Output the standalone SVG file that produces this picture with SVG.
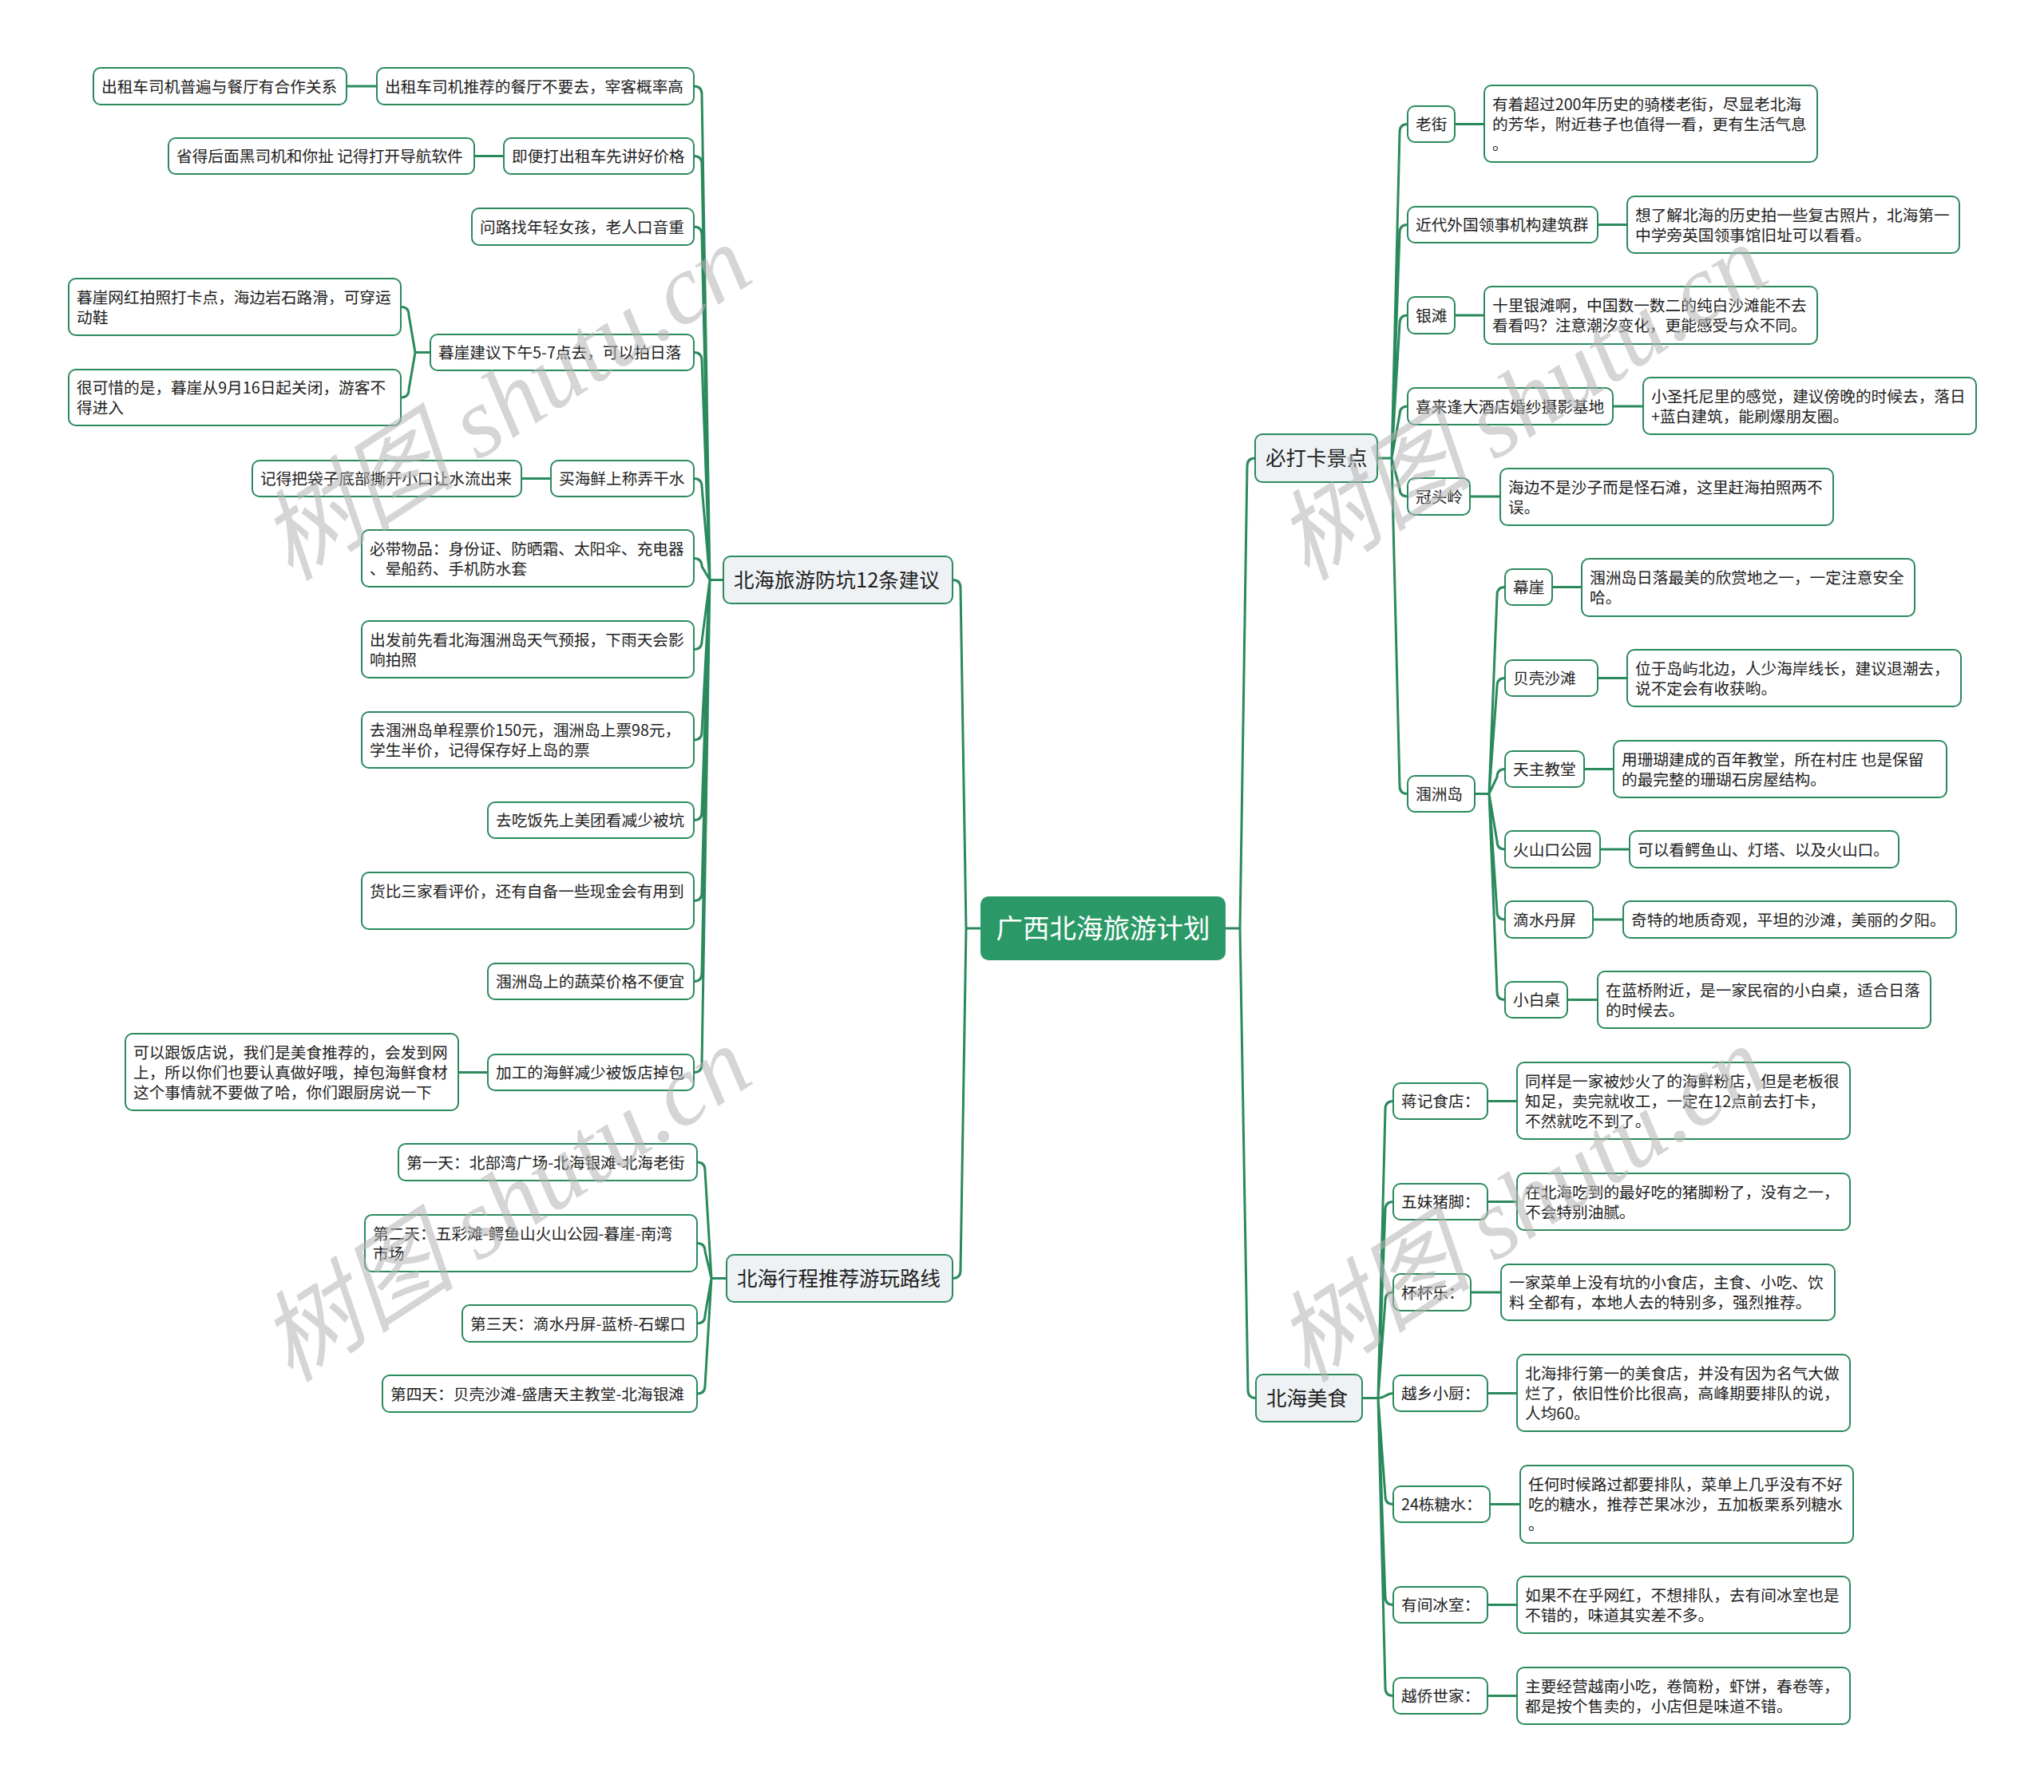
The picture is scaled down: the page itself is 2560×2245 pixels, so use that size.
<svg xmlns="http://www.w3.org/2000/svg" width="2560" height="2245" viewBox="0 0 2560 2245">
<style>
.box{fill:#ffffff;stroke:#2a8a5c;stroke-width:2}
.br{fill:#eef2f5;stroke:#2a8a5c;stroke-width:2}
.root{fill:#2b9967}
.t{font-family:"Noto Sans CJK SC","Noto Sans",sans-serif;font-size:19.7px;fill:#222}
.tb{font-family:"Noto Sans CJK SC","Noto Sans",sans-serif;font-size:25.5px;fill:#222}
.tr{font-family:"Noto Sans CJK SC","Noto Sans",sans-serif;font-size:33.5px;fill:#ffffff}
.c{fill:none;stroke:#2a8a5c;stroke-width:3}
.wm{font-family:"Liberation Serif","Noto Sans CJK SC",serif;font-style:italic;font-size:124px;fill:#b4b4b4;opacity:0.55}
</style>
<rect width="2560" height="2245" fill="#ffffff"/>
<g id="connectors">
<path class="c" d="M1228,1163 H1210 M1210,1163 L1203,736.5 Q1203,726.5 1193,726.5 M1210,1163 L1203,1591.5 Q1203,1601.5 1193,1601.5"/>
<path class="c" d="M1535,1163 H1553 M1553,1163 L1562,584 Q1562,574 1572,574 M1553,1163 L1563,1741.5 Q1563,1751.5 1573,1751.5"/>
<path class="c" d="M906,726.5 H889 M889,726.5 L879,118 Q879,108 869,108 M889,726.5 L879,205.5 Q879,195.5 869,195.5 M889,726.5 L879,294 Q879,284 869,284 M889,726.5 L879,451.5 Q879,441.5 869,441.5 M889,726.5 L879,609.5 Q879,599.5 869,599.5 M889,726.5 L879,709.5 Q879,699.5 869,699.5 M889,726.5 L879,803.5 Q879,813.5 869,813.5 M889,726.5 L879,917 Q879,927 869,927 M889,726.5 L879,1017.5 Q879,1027.5 869,1027.5 M889,726.5 L879,1118.5 Q879,1128.5 869,1128.5 M889,726.5 L879,1219.5 Q879,1229.5 869,1229.5 M889,726.5 L879,1333.5 Q879,1343.5 869,1343.5"/>
<path class="c" d="M472,108 H434 M631,195.5 H594 M690,599.5 H653 M611,1343.5 H574"/>
<path class="c" d="M539,441.5 H520 M520,441.5 L512,394.5 Q512,384.5 502,384.5 M520,441.5 L512,488 Q512,498 502,498"/>
<path class="c" d="M910,1601.5 H891 M891,1601.5 L883,1466 Q883,1456 873,1456 M891,1601.5 L883,1567.5 Q883,1557.5 873,1557.5 M891,1601.5 L883,1648 Q883,1658 873,1658 M891,1601.5 L883,1736 Q883,1746 873,1746"/>
<path class="c" d="M1725,574 H1743 M1743,574 L1753,165.5 Q1753,155.5 1763,155.5 M1743,574 L1753,291.5 Q1753,281.5 1763,281.5 M1743,574 L1753,405 Q1753,395 1763,395 M1743,574 L1753,519 Q1753,509 1763,509 M1743,574 L1753,612 Q1753,622 1763,622 M1743,574 L1753,984.5 Q1753,994.5 1763,994.5"/>
<path class="c" d="M1822,155.5 H1859 M2001,281.5 H2038 M1822,395 H1859 M2020,509 H2058 M1841,622 H1879"/>
<path class="c" d="M1847,994.5 H1865 M1865,994.5 L1875,745.5 Q1875,735.5 1885,735.5 M1865,994.5 L1875,859.5 Q1875,849.5 1885,849.5 M1865,994.5 L1875,973.5 Q1875,963.5 1885,963.5 M1865,994.5 L1875,1054 Q1875,1064 1885,1064 M1865,994.5 L1875,1142 Q1875,1152 1885,1152 M1865,994.5 L1875,1242.5 Q1875,1252.5 1885,1252.5"/>
<path class="c" d="M1944,735.5 H1981 M2001,849.5 H2038 M1984,963.5 H2021 M2004,1064 H2041 M1995,1152 H2033 M1963,1252.5 H2001"/>
<path class="c" d="M1706,1751.5 H1726 M1726,1751.5 L1735,1389.5 Q1735,1379.5 1745,1379.5 M1726,1751.5 L1735,1515.5 Q1735,1505.5 1745,1505.5 M1726,1751.5 L1735,1629 Q1735,1619 1745,1619 M1726,1751.5 C1736,1751.5 1735,1745.5 1745,1745.5 M1726,1751.5 L1735,1874.5 Q1735,1884.5 1745,1884.5 M1726,1751.5 L1735,2000.5 Q1735,2010.5 1745,2010.5 M1726,1751.5 L1735,2114.5 Q1735,2124.5 1745,2124.5"/>
<path class="c" d="M1863,1379.5 H1900 M1863,1505.5 H1900 M1842,1619 H1880 M1863,1745.5 H1900 M1866,1884.5 H1904 M1863,2010.5 H1900 M1863,2124.5 H1900"/>
</g>
<g id="root"><rect class="root" x="1228" y="1123" width="307" height="80" rx="10"/><text class="tr" x="1381.5" y="1175" text-anchor="middle">广西北海旅游计划</text></g>
<g id="b-fangkeng"><rect class="br" x="906" y="697" width="287" height="59" rx="9"/><text class="tb" x="919" y="735.5">北海旅游防坑12条建议</text></g>
<g id="b-xingcheng"><rect class="br" x="910" y="1572" width="283" height="59" rx="9"/><text class="tb" x="923" y="1610.5">北海行程推荐游玩路线</text></g>
<g id="b-daka"><rect class="br" x="1572" y="544" width="153" height="60" rx="9"/><text class="tb" x="1585" y="583">必打卡景点</text></g>
<g id="b-meishi"><rect class="br" x="1573" y="1722" width="133" height="59" rx="9"/><text class="tb" x="1586" y="1760.5">北海美食</text></g>
<g id="n-l1"><rect class="box" x="472" y="85" width="397" height="46" rx="9"/><text class="t" x="482" y="115.5">出租车司机推荐的餐厅不要去，宰客概率高</text></g>
<g id="n-l1a"><rect class="box" x="117" y="85" width="317" height="46" rx="9"/><text class="t" x="127" y="115.5">出租车司机普遍与餐厅有合作关系</text></g>
<g id="n-l2"><rect class="box" x="631" y="173" width="238" height="45" rx="9"/><text class="t" x="641" y="203">即便打出租车先讲好价格</text></g>
<g id="n-l2a"><rect class="box" x="211" y="173" width="383" height="45" rx="9"/><text class="t" x="221" y="203">省得后面黑司机和你扯 记得打开导航软件</text></g>
<g id="n-l3"><rect class="box" x="591" y="261" width="278" height="46" rx="9"/><text class="t" x="601" y="291.5">问路找年轻女孩，老人口音重</text></g>
<g id="n-l4"><rect class="box" x="539" y="419" width="330" height="45" rx="9"/><text class="t" x="549" y="449">暮崖建议下午5-7点去，可以拍日落</text></g>
<g id="n-l4a"><rect class="box" x="86" y="349" width="416" height="71" rx="9"/><text class="t" x="96" y="379.5">暮崖网红拍照打卡点，海边岩石路滑，可穿运</text><text class="t" x="96" y="404.5">动鞋</text></g>
<g id="n-l4b"><rect class="box" x="86" y="463" width="416" height="70" rx="9"/><text class="t" x="96" y="493">很可惜的是，暮崖从9月16日起关闭，游客不</text><text class="t" x="96" y="518">得进入</text></g>
<g id="n-l5"><rect class="box" x="690" y="577" width="179" height="45" rx="9"/><text class="t" x="700" y="607">买海鲜上称弄干水</text></g>
<g id="n-l5a"><rect class="box" x="316" y="577" width="337" height="45" rx="9"/><text class="t" x="326" y="607">记得把袋子底部撕开小口让水流出来</text></g>
<g id="n-l6"><rect class="box" x="453" y="664" width="416" height="71" rx="9"/><text class="t" x="463" y="694.5">必带物品：身份证、防晒霜、太阳伞、充电器</text><text class="t" x="463" y="719.5">、晕船药、手机防水套</text></g>
<g id="n-l7"><rect class="box" x="453" y="778" width="416" height="71" rx="9"/><text class="t" x="463" y="808.5">出发前先看北海涠洲岛天气预报，下雨天会影</text><text class="t" x="463" y="833.5">响拍照</text></g>
<g id="n-l8"><rect class="box" x="453" y="892" width="416" height="70" rx="9"/><text class="t" x="463" y="922">去涠洲岛单程票价150元，涠洲岛上票98元，</text><text class="t" x="463" y="947">学生半价，记得保存好上岛的票</text></g>
<g id="n-l9"><rect class="box" x="611" y="1005" width="258" height="45" rx="9"/><text class="t" x="621" y="1035">去吃饭先上美团看减少被坑</text></g>
<g id="n-l10"><rect class="box" x="453" y="1093" width="416" height="71" rx="9"/><text class="t" x="463" y="1123.5">货比三家看评价，还有自备一些现金会有用到</text></g>
<g id="n-l11"><rect class="box" x="611" y="1207" width="258" height="45" rx="9"/><text class="t" x="621" y="1237">涠洲岛上的蔬菜价格不便宜</text></g>
<g id="n-l12"><rect class="box" x="611" y="1321" width="258" height="45" rx="9"/><text class="t" x="621" y="1351">加工的海鲜减少被饭店掉包</text></g>
<g id="n-l12a"><rect class="box" x="157" y="1295" width="417" height="96" rx="9"/><text class="t" x="167" y="1325.5">可以跟饭店说，我们是美食推荐的，会发到网</text><text class="t" x="167" y="1350.5">上，所以你们也要认真做好哦，掉包海鲜食材</text><text class="t" x="167" y="1375.5">这个事情就不要做了哈，你们跟厨房说一下</text></g>
<g id="n-d1"><rect class="box" x="499" y="1433" width="374" height="46" rx="9"/><text class="t" x="509" y="1463.5">第一天：北部湾广场-北海银滩-北海老街</text></g>
<g id="n-d2"><rect class="box" x="457" y="1522" width="416" height="71" rx="9"/><text class="t" x="467" y="1552.5">第二天：五彩滩-鳄鱼山火山公园-暮崖-南湾</text><text class="t" x="467" y="1577.5">市场</text></g>
<g id="n-d3"><rect class="box" x="579" y="1635" width="294" height="46" rx="9"/><text class="t" x="589" y="1665.5">第三天：滴水丹屏-蓝桥-石螺口</text></g>
<g id="n-d4"><rect class="box" x="479" y="1723" width="394" height="46" rx="9"/><text class="t" x="489" y="1753.5">第四天：贝壳沙滩-盛唐天主教堂-北海银滩</text></g>
<g id="n-r1"><rect class="box" x="1763" y="133" width="59" height="45" rx="9"/><text class="t" x="1773" y="163">老街</text></g>
<g id="n-r1a"><rect class="box" x="1859" y="107" width="417" height="96" rx="9"/><text class="t" x="1869" y="137.5">有着超过200年历史的骑楼老街，尽显老北海</text><text class="t" x="1869" y="162.5">的芳华，附近巷子也值得一看，更有生活气息</text><text class="t" x="1869" y="187.5">。</text></g>
<g id="n-r2"><rect class="box" x="1763" y="259" width="238" height="45" rx="9"/><text class="t" x="1773" y="289">近代外国领事机构建筑群</text></g>
<g id="n-r2a"><rect class="box" x="2038" y="246" width="416" height="71" rx="9"/><text class="t" x="2048" y="276.5">想了解北海的历史拍一些复古照片，北海第一</text><text class="t" x="2048" y="301.5">中学旁英国领事馆旧址可以看看。</text></g>
<g id="n-r3"><rect class="box" x="1763" y="372" width="59" height="46" rx="9"/><text class="t" x="1773" y="402.5">银滩</text></g>
<g id="n-r3a"><rect class="box" x="1859" y="359" width="417" height="72" rx="9"/><text class="t" x="1869" y="390">十里银滩啊，中国数一数二的纯白沙滩能不去</text><text class="t" x="1869" y="415">看看吗？注意潮汐变化，更能感受与众不同。</text></g>
<g id="n-r4"><rect class="box" x="1763" y="486" width="257" height="46" rx="9"/><text class="t" x="1773" y="516.5">喜来逢大酒店婚纱摄影基地</text></g>
<g id="n-r4a"><rect class="box" x="2058" y="473" width="417" height="71" rx="9"/><text class="t" x="2068" y="503.5">小圣托尼里的感觉，建议傍晚的时候去，落日</text><text class="t" x="2068" y="528.5">+蓝白建筑，能刷爆朋友圈。</text></g>
<g id="n-r5"><rect class="box" x="1763" y="599" width="78" height="46" rx="9"/><text class="t" x="1773" y="629.5">冠头岭</text></g>
<g id="n-r5a"><rect class="box" x="1879" y="587" width="417" height="71" rx="9"/><text class="t" x="1889" y="617.5">海边不是沙子而是怪石滩，这里赶海拍照两不</text><text class="t" x="1889" y="642.5">误。</text></g>
<g id="n-r6"><rect class="box" x="1763" y="972" width="84" height="45" rx="9"/><text class="t" x="1773" y="1002">涠洲岛</text></g>
<g id="n-w1"><rect class="box" x="1885" y="713" width="59" height="45" rx="9"/><text class="t" x="1895" y="743">幕崖</text></g>
<g id="n-w1a"><rect class="box" x="1981" y="700" width="417" height="72" rx="9"/><text class="t" x="1991" y="731">涠洲岛日落最美的欣赏地之一，一定注意安全</text><text class="t" x="1991" y="756">哈。</text></g>
<g id="n-w2"><rect class="box" x="1885" y="827" width="116" height="45" rx="9"/><text class="t" x="1895" y="857">贝壳沙滩</text></g>
<g id="n-w2a"><rect class="box" x="2038" y="814" width="418" height="71" rx="9"/><text class="t" x="2048" y="844.5">位于岛屿北边，人少海岸线长，建议退潮去，</text><text class="t" x="2048" y="869.5">说不定会有收获哟。</text></g>
<g id="n-w3"><rect class="box" x="1885" y="941" width="99" height="45" rx="9"/><text class="t" x="1895" y="971">天主教堂</text></g>
<g id="n-w3a"><rect class="box" x="2021" y="928" width="417" height="71" rx="9"/><text class="t" x="2031" y="958.5">用珊瑚建成的百年教堂，所在村庄 也是保留</text><text class="t" x="2031" y="983.5">的最完整的珊瑚石房屋结构。</text></g>
<g id="n-w4"><rect class="box" x="1885" y="1041" width="119" height="46" rx="9"/><text class="t" x="1895" y="1071.5">火山口公园</text></g>
<g id="n-w4a"><rect class="box" x="2041" y="1041" width="337" height="46" rx="9"/><text class="t" x="2051" y="1071.5">可以看鳄鱼山、灯塔、以及火山口。</text></g>
<g id="n-w5"><rect class="box" x="1885" y="1129" width="110" height="46" rx="9"/><text class="t" x="1895" y="1159.5">滴水丹屏</text></g>
<g id="n-w5a"><rect class="box" x="2033" y="1129" width="417" height="46" rx="9"/><text class="t" x="2043" y="1159.5">奇特的地质奇观，平坦的沙滩，美丽的夕阳。</text></g>
<g id="n-w6"><rect class="box" x="1885" y="1230" width="78" height="45" rx="9"/><text class="t" x="1895" y="1260">小白桌</text></g>
<g id="n-w6a"><rect class="box" x="2001" y="1217" width="417" height="71" rx="9"/><text class="t" x="2011" y="1247.5">在蓝桥附近，是一家民宿的小白桌，适合日落</text><text class="t" x="2011" y="1272.5">的时候去。</text></g>
<g id="n-f1"><rect class="box" x="1745" y="1357" width="118" height="45" rx="9"/><text class="t" x="1755" y="1387">蒋记食店：</text></g>
<g id="n-f1a"><rect class="box" x="1900" y="1331" width="417" height="96" rx="9"/><text class="t" x="1910" y="1361.5">同样是一家被炒火了的海鲜粉店，但是老板很</text><text class="t" x="1910" y="1386.5">知足，卖完就收工，一定在12点前去打卡，</text><text class="t" x="1910" y="1411.5">不然就吃不到了。</text></g>
<g id="n-f2"><rect class="box" x="1745" y="1483" width="118" height="45" rx="9"/><text class="t" x="1755" y="1513">五妹猪脚：</text></g>
<g id="n-f2a"><rect class="box" x="1900" y="1470" width="417" height="71" rx="9"/><text class="t" x="1910" y="1500.5">在北海吃到的最好吃的猪脚粉了，没有之一，</text><text class="t" x="1910" y="1525.5">不会特别油腻。</text></g>
<g id="n-f3"><rect class="box" x="1745" y="1596" width="97" height="46" rx="9"/><text class="t" x="1755" y="1626.5">杯杯乐：</text></g>
<g id="n-f3a"><rect class="box" x="1880" y="1584" width="418" height="70" rx="9"/><text class="t" x="1890" y="1614">一家菜单上没有坑的小食店，主食、小吃、饮</text><text class="t" x="1890" y="1639">料 全都有，本地人去的特别多，强烈推荐。</text></g>
<g id="n-f4"><rect class="box" x="1745" y="1723" width="118" height="45" rx="9"/><text class="t" x="1755" y="1753">越乡小厨：</text></g>
<g id="n-f4a"><rect class="box" x="1900" y="1697" width="417" height="96" rx="9"/><text class="t" x="1910" y="1727.5">北海排行第一的美食店，并没有因为名气大做</text><text class="t" x="1910" y="1752.5">烂了，依旧性价比很高，高峰期要排队的说，</text><text class="t" x="1910" y="1777.5">人均60。</text></g>
<g id="n-f5"><rect class="box" x="1745" y="1862" width="121" height="45" rx="9"/><text class="t" x="1755" y="1892">24栋糖水：</text></g>
<g id="n-f5a"><rect class="box" x="1904" y="1836" width="417" height="97" rx="9"/><text class="t" x="1914" y="1866.5">任何时候路过都要排队，菜单上几乎没有不好</text><text class="t" x="1914" y="1891.5">吃的糖水，推荐芒果冰沙，五加板栗系列糖水</text><text class="t" x="1914" y="1916.5">。</text></g>
<g id="n-f6"><rect class="box" x="1745" y="1988" width="118" height="45" rx="9"/><text class="t" x="1755" y="2018">有间冰室：</text></g>
<g id="n-f6a"><rect class="box" x="1900" y="1975" width="417" height="71" rx="9"/><text class="t" x="1910" y="2005.5">如果不在乎网红，不想排队，去有间冰室也是</text><text class="t" x="1910" y="2030.5">不错的，味道其实差不多。</text></g>
<g id="n-f7"><rect class="box" x="1745" y="2102" width="118" height="45" rx="9"/><text class="t" x="1755" y="2132">越侨世家：</text></g>
<g id="n-f7a"><rect class="box" x="1900" y="2089" width="417" height="71" rx="9"/><text class="t" x="1910" y="2119.5">主要经营越南小吃，卷筒粉，虾饼，春卷等，</text><text class="t" x="1910" y="2144.5">都是按个售卖的，小店但是味道不错。</text></g>
<g id="watermarks">
<text class="wm" text-anchor="middle" transform="translate(656,540) rotate(-33)">树图 shutu.cn</text>
<text class="wm" text-anchor="middle" transform="translate(656,1544) rotate(-33)">树图 shutu.cn</text>
<text class="wm" text-anchor="middle" transform="translate(1929,540) rotate(-33)">树图 shutu.cn</text>
<text class="wm" text-anchor="middle" transform="translate(1929,1544) rotate(-33)">树图 shutu.cn</text>
</g>
</svg>
